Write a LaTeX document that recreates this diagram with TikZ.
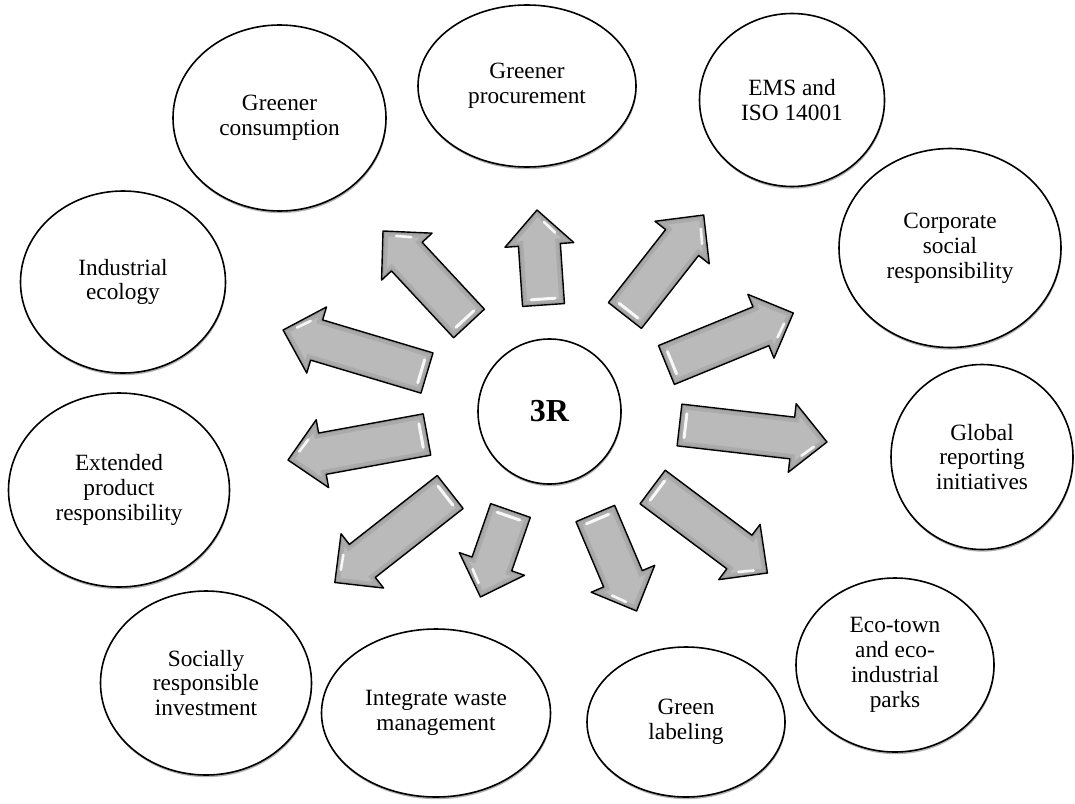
\documentclass[tikz,border=0pt]{standalone}
\usepackage{fontspec}
\setmainfont{Liberation Serif}
\usetikzlibrary{shapes.geometric,calc,shadows}

\tikzset{
  bubble/.style={ellipse, draw=black, line width=1.6pt, fill=white, align=center,
    inner sep=0pt, font=\fontsize{23.3}{24.8}\selectfont,
    drop shadow={shadow xshift=0.6pt, shadow yshift=-2.2pt, opacity=0.3, fill=black}},
  hub/.style={bubble, font=\fontsize{32}{34}\selectfont\bfseries},
  arrowbody/.style={fill=black!27},
  arrowrim/.style={draw=black!33, line width=#1},
  arrowedge/.style={draw=black, line width=1.4pt, line join=round},
  gloss/.style={draw=white, line cap=round, line width=#1, opacity=0.9},
}

% Block arrow from a tail point #1 to a tip point #2
\newcommand{\blockarrow}[2]{%
  \coordinate (ah) at ($(#2)!35pt!(#1)$);
  \coordinate (ar) at ($(ah)!34.5pt!-90:(#2)$);
  \coordinate (al) at ($(ah)!34.5pt!90:(#2)$);
  \path[save path=\arrowpath]
    ($(#1)!21pt!90:(#2)$) -- ($(ah)!21pt!90:(#2)$) -- (al) -- (#2) -- (ar)
    -- ($(ah)!21pt!-90:(#2)$) -- ($(#1)!21pt!-90:(#2)$) -- cycle;
  \fill[arrowbody, use path=\arrowpath];
  \begin{scope}
    \path[clip, use path=\arrowpath];
    \draw[arrowrim=10pt, use path=\arrowpath];
    \draw[arrowrim=4pt, draw=black!38, use path=\arrowpath];
  \end{scope}
  % bevel highlights at the tail and along one side of the head
  \coordinate (at) at ($(#1)!6pt!(#2)$);
  \draw[gloss=3pt] ($(at)!12pt!90:(#2)$) -- ($(at)!12pt!-90:(#2)$);
  \coordinate (hg1) at ($(#2)!0.22!(ar)$);
  \coordinate (hg2) at ($(#2)!0.6!(ar)$);
  \draw[gloss=2.6pt] ($(hg1)!5pt!(ah)$) -- ($(hg2)!5pt!(ah)$);
  \draw[arrowedge, use path=\arrowpath];
}

\begin{document}
\begin{tikzpicture}[x=1pt, y=-1pt]
\useasboundingbox (0,0) rectangle (1075,803);

% arrow tails and tips
\coordinate (t1) at (469,323.5);   \coordinate (p1) at (383,231);
\coordinate (t2) at (543.5,305);   \coordinate (p2) at (537,210);
\coordinate (t3) at (624.9,315.5); \coordinate (p3) at (703.7,215);
\coordinate (t4) at (666.4,365);   \coordinate (p4) at (793.3,313);
\coordinate (t5) at (679.5,425);   \coordinate (p5) at (827,442);
\coordinate (t6) at (652.6,487);   \coordinate (p6) at (767.4,573);
\coordinate (t7) at (595.3,513.5); \coordinate (p7) at (636.6,611);
\coordinate (t8) at (510.5,510.5); \coordinate (p8) at (480.4,597);
\coordinate (t9) at (450.2,492);   \coordinate (p9) at (334.8,582.5);
\coordinate (t10) at (427,434.5);  \coordinate (p10) at (288,460);
\coordinate (t11) at (427,373);    \coordinate (p11) at (283.1,330);

\blockarrow{t1}{p1}
\blockarrow{t2}{p2}
\blockarrow{t3}{p3}
\blockarrow{t4}{p4}
\blockarrow{t5}{p5}
\blockarrow{t6}{p6}
\blockarrow{t7}{p7}
\blockarrow{t8}{p8}
\blockarrow{t9}{p9}
\blockarrow{t10}{p10}
\blockarrow{t11}{p11}

% centre
\node[hub, minimum width=143pt, minimum height=145pt] (hub) at (549.5,411.5) {3R};

% surrounding topics
\node[bubble, minimum width=213pt, minimum height=186pt] (cons) at (279.5,118) {Greener\\consumption};
\node[bubble, minimum width=218pt, minimum height=162pt] (proc) at (527,86) {Greener\\procurement};
\node[bubble, minimum width=185pt, minimum height=173pt] (ems) at (792,100) {EMS and\\ISO 14001};
\node[bubble, minimum width=222pt, minimum height=199pt] (csr) at (950,248) {Corporate\\social\\responsibility};
\node[bubble, minimum width=182pt, minimum height=185pt] (gri) at (982,457) {Global\\reporting\\initiatives};
\node[bubble, minimum width=198pt, minimum height=174pt] (eco) at (895,665) {Eco-town\\and eco-\\industrial\\parks};
\node[bubble, minimum width=198pt, minimum height=150pt] (lab) at (686,722) {Green\\labeling};
\node[bubble, minimum width=229pt, minimum height=168pt] (iwm) at (436,713) {Integrate waste\\management};
\node[bubble, minimum width=211pt, minimum height=184pt] (sri) at (206,683) {Socially\\responsible\\investment};
\node[bubble, minimum width=221pt, minimum height=194pt] (epr) at (119,490) {Extended\\product\\responsibility};
\node[bubble, minimum width=205pt, minimum height=182pt] (ind) at (123,282) {Industrial\\ecology};
\end{tikzpicture}
\end{document}
